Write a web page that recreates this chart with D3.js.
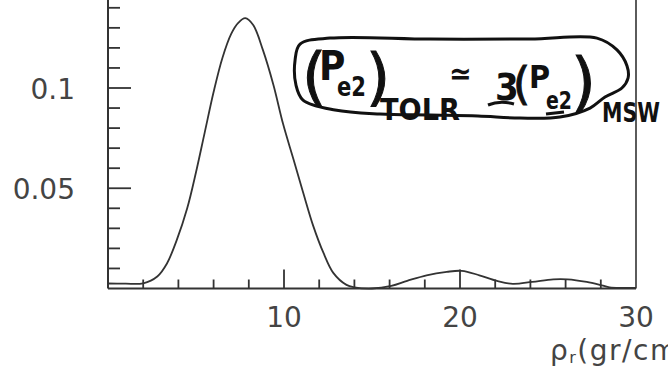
<!DOCTYPE html>
<html>
<head>
<meta charset="utf-8">
<script src="https://cdn.jsdelivr.net/npm/d3@7"></script>
<style>
  html, body { margin: 0; padding: 0; background: #fff; }
  #chart { width: 668px; height: 381px; overflow: hidden; }
  .tick-label { font-family: "DejaVu Sans", sans-serif; font-size: 28px; fill: #444; }
  .note { font-family: "DejaVu Sans Condensed", "DejaVu Sans", sans-serif; font-weight: bold; fill: #111; }
  .paren { font-family: "DejaVu Sans", sans-serif; font-weight: normal; fill: #111; stroke: #111; stroke-width: 1; }
</style>
</head>
<body>
<div id="chart"></div>
<script>
// ---------- DATA ----------
// rho_r (gr/cm^3) and the probability curve
const RHO = [0, 1, 2, 2.8, 3.35, 3.9, 4.5, 5.0, 5.5, 6.0, 6.5, 7.0, 7.4, 7.8,
  8.25, 8.8, 9.4, 9.95, 10.55, 11.1, 11.65, 12.25, 12.8, 13.55, 14.0, 15.0,
  16.1, 17.0, 18.1, 19.25, 20.1, 21.1, 22.1, 23.0, 24.1, 25.3, 26.1, 27.2, 28.05, 28.5, 29.2, 30];
const PROB = [0.0025, 0.0024, 0.0026, 0.006, 0.0125, 0.024, 0.040, 0.058, 0.078, 0.098, 0.115, 0.127, 0.1325, 0.1348,
  0.1314, 0.119, 0.1015, 0.082, 0.0641, 0.0475, 0.0315, 0.0176, 0.0078, 0.0018, 0.0006, 0.0,
  0.0013, 0.0038, 0.0066, 0.0083, 0.0088, 0.0066, 0.0038, 0.0023, 0.0033, 0.0046, 0.0046, 0.0033, 0.0016, 0.0006, 0.0003, 0.0003];

const X_TICKS = d3.range(2, 30, 2);
const X_LABELS = [10, 20, 30];
const Y_TICKS = d3.range(1, 15).map(i => i / 100);
const Y_LABELS = [0.05, 0.1];

// hand-written note, outline given in data units (rho, P)
const BUBBLE = [
  [10.91, 0.1219], [12.61, 0.1249], [18.3, 0.1244], [23.98, 0.1244], [27.78, 0.1249],
  [28.92, 0.119], [29.49, 0.111], [29.55, 0.105], [29.2, 0.1], [28.24, 0.0955],
  [27.39, 0.09], [25.68, 0.0855], [23.41, 0.085], [21.02, 0.086], [18.3, 0.0865],
  [15.45, 0.087], [12.9, 0.089], [11.08, 0.094], [10.68, 0.1015], [10.63, 0.114]
];

// ---------- SCAFFOLD ----------
const width = 668, height = 381;
const svg = d3.select("#chart").append("svg")
  .attr("width", width)
  .attr("height", height);

const x = d3.scaleLinear().domain([0, 30]).range([108, 636]);
const y = d3.scaleLinear().domain([0, 0.15]).range([288.5, -12.25]);

const ink = "#333";

// ---------- FRAME ----------
svg.append("line") // left axis
  .attr("x1", x(0)).attr("x2", x(0))
  .attr("y1", y(0.15)).attr("y2", y(0))
  .attr("stroke", ink).attr("stroke-width", 2);
svg.append("line") // right border
  .attr("x1", x(30)).attr("x2", x(30))
  .attr("y1", y(0.15)).attr("y2", y(0))
  .attr("stroke", ink).attr("stroke-width", 1.6);
svg.append("line") // bottom axis
  .attr("x1", x(0)).attr("x2", x(30))
  .attr("y1", y(0)).attr("y2", y(0))
  .attr("stroke", ink).attr("stroke-width", 2);

// ticks point inward
const isMajorX = v => v % 10 === 0;
svg.selectAll(".xtick")
  .data(X_TICKS)
  .join("line")
  .attr("class", "xtick")
  .attr("x1", d => x(d)).attr("x2", d => x(d))
  .attr("y1", y(0))
  .attr("y2", d => y(0) - (isMajorX(d) ? 19 : 9))
  .attr("stroke", ink).attr("stroke-width", 1.8);

const isMajorY = v => Math.round(v * 100) % 5 === 0;
svg.selectAll(".ytick")
  .data(Y_TICKS)
  .join("line")
  .attr("class", "ytick")
  .attr("y1", d => y(d)).attr("y2", d => y(d))
  .attr("x1", x(0))
  .attr("x2", d => x(0) + (isMajorY(d) ? 23 : 12))
  .attr("stroke", ink).attr("stroke-width", 1.8);

svg.selectAll(".xlabel")
  .data(X_LABELS)
  .join("text")
  .attr("class", "tick-label")
  .attr("text-anchor", "middle")
  .attr("x", d => x(d))
  .attr("y", y(0) + 38)
  .text(d => d);

svg.selectAll(".ylabel")
  .data(Y_LABELS)
  .join("text")
  .attr("class", "tick-label")
  .attr("text-anchor", "end")
  .attr("x", x(0) - 33)
  .attr("y", d => y(d))
  .attr("dy", "0.4em")
  .text(d => d);

// axis title, runs off the right edge like the scan
const title = svg.append("text")
  .attr("class", "tick-label")
  .attr("x", 550)
  .attr("y", 360)
  .attr("letter-spacing", 1.5);
title.append("tspan").text("ρ");
title.append("tspan").attr("font-size", 16).attr("dy", 3).text("r");
title.append("tspan").attr("dy", -3).text("(gr/cm³)");

// ---------- CURVE ----------
const pts = RHO.map((r, i) => [r, PROB[i]]);
svg.append("path")
  .datum(pts)
  .attr("fill", "none")
  .attr("stroke", ink)
  .attr("stroke-width", 1.8)
  .attr("d", d3.line()
    .x(d => x(d[0]))
    .y(d => Math.min(y(0), y(d[1])))
    .curve(d3.curveCatmullRom.alpha(0.5)));

// ---------- NOTE ----------
svg.append("path")
  .datum(BUBBLE)
  .attr("fill", "none")
  .attr("stroke", "#111")
  .attr("stroke-width", 3)
  .attr("d", d3.line()
    .x(d => x(d[0]))
    .y(d => y(d[1]))
    .curve(d3.curveCatmullRomClosed));

const parens = [
  { t: "(", px: 302, py: 97, fs: 62 },
  { t: ")", px: 366, py: 98, fs: 62 },
  { t: "(", px: 513, py: 99, fs: 44 },
  { t: ")", px: 571, py: 104, fs: 64 }
];
svg.selectAll(".paren")
  .data(parens)
  .join("text")
  .attr("class", "paren")
  .attr("x", d => d.px)
  .attr("y", d => d.py)
  .attr("font-size", d => d.fs)
  .text(d => d.t);

const note = [
  { t: "P", px: 319, py: 80, fs: 40 },
  { t: "e2", px: 337, py: 96, fs: 27, w: 29 },
  { t: "TOLR", px: 380, py: 120, fs: 31, w: 80 },
  { t: "≃", px: 449, py: 84, fs: 30 },
  { t: "3", px: 495, py: 100, fs: 38 },
  { t: "P", px: 529, py: 88, fs: 32 },
  { t: "e2", px: 546, py: 109, fs: 25, w: 26 },
  { t: "MSW", px: 602, py: 122, fs: 27, w: 58 }
];
svg.selectAll(".note")
  .data(note)
  .join("text")
  .attr("class", "note")
  .attr("x", d => d.px)
  .attr("y", d => d.py)
  .attr("font-size", d => d.fs)
  .attr("textLength", d => d.w || null)
  .attr("lengthAdjust", d => d.w ? "spacingAndGlyphs" : null)
  .text(d => d.t);

// underline under the 3 and under e2
svg.append("path")
  .attr("fill", "none").attr("stroke", "#111").attr("stroke-width", 3)
  .attr("d", "M488,105 Q500,100 514,104");
svg.append("path")
  .attr("fill", "none").attr("stroke", "#111").attr("stroke-width", 3)
  .attr("d", "M546,114 L564,112");
</script>
</body>
</html>
